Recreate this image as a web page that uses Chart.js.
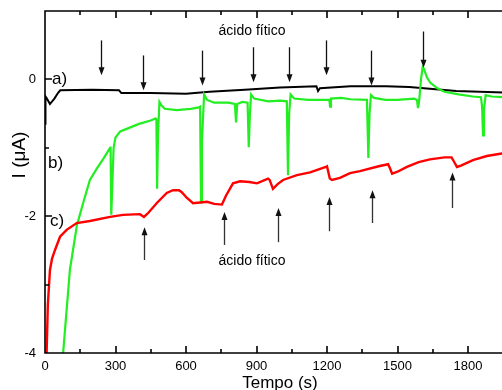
<!DOCTYPE html>
<html>
<head>
<meta charset="utf-8">
<script src="https://cdn.jsdelivr.net/npm/chart.js@4.4.0/dist/chart.umd.min.js"></script>
<style>
  body { margin: 0; overflow: hidden; background: #fff; }
  #wrap { width: 520px; height: 390px; }
</style>
</head>
<body>
<div id="wrap"><canvas id="chart" width="520" height="390"></canvas></div>
<script>
// curve a) - black
const timeA = [0, 2, 8, 21, 40, 55, 65, 200, 315, 325, 450, 600, 700, 850, 1000, 1155, 1162, 1170, 1300, 1450, 1550, 1650, 1750, 1950, 2000];
const currentA = [-0.65, -0.25, -0.28, -0.36, -0.28, -0.2, -0.16, -0.15, -0.16, -0.2, -0.2, -0.21, -0.18, -0.15, -0.12, -0.1, -0.17, -0.13, -0.1, -0.1, -0.11, -0.14, -0.17, -0.19, -0.19];

// curve b) - green
const timeB = [70, 106, 136, 162, 191, 221, 250, 277, 279, 282, 286, 292, 300, 320, 350, 400, 450, 470, 474, 477, 481, 487, 495, 510, 560, 620, 655, 660, 664, 668, 677, 690, 720, 780, 808, 813, 818, 840, 862, 867, 872, 877, 890, 950, 1000, 1029, 1034, 1039, 1045, 1060, 1120, 1200, 1210, 1213, 1217, 1260, 1300, 1370, 1376, 1381, 1387, 1400, 1450, 1500, 1570, 1583, 1587, 1592, 1600, 1607, 1612, 1625, 1640, 1670, 1700, 1760, 1820, 1855, 1860, 1864, 1868, 1875, 1900, 1950, 2000];
const currentB = [-4.3, -2.78, -2.13, -1.81, -1.47, -1.3, -1.15, -1.0, -0.98, -1.98, -1.6, -1.0, -0.85, -0.76, -0.72, -0.65, -0.6, -0.57, -0.58, -1.6, -0.8, -0.33, -0.38, -0.43, -0.45, -0.43, -0.41, -0.4, -1.8, -0.9, -0.22, -0.3, -0.34, -0.34, -0.36, -0.63, -0.36, -0.33, -0.34, -0.99, -0.5, -0.22, -0.28, -0.32, -0.31, -0.32, -1.4, -0.5, -0.22, -0.28, -0.3, -0.3, -0.3, -0.4, -0.28, -0.27, -0.29, -0.3, -1.15, -0.5, -0.23, -0.27, -0.3, -0.3, -0.28, -0.3, -0.42, -0.32, 0.0, 0.18, 0.16, 0.03, -0.05, -0.13, -0.18, -0.22, -0.25, -0.26, -0.4, -0.82, -0.45, -0.23, -0.25, -0.26, -0.26];

// curve c) - red
const timeC = [5, 7, 12, 21, 30, 43, 64, 92, 135, 191, 277, 332, 404, 421, 440, 475, 518, 545, 570, 582, 603, 630, 660, 690, 720, 753, 770, 800, 830, 870, 902, 949, 956, 970, 990, 1013, 1072, 1128, 1195, 1200, 1212, 1221, 1255, 1298, 1340, 1420, 1460, 1468, 1477, 1500, 1540, 1590, 1638, 1700, 1730, 1740, 1753, 1770, 1821, 1880, 1950, 2000];
const currentC = [-4.3, -3.98, -3.3, -2.79, -2.62, -2.49, -2.3, -2.2, -2.1, -2.07, -2.01, -1.98, -1.97, -2.01, -1.95, -1.81, -1.66, -1.62, -1.62, -1.65, -1.73, -1.81, -1.8, -1.79, -1.82, -1.83, -1.7, -1.52, -1.49, -1.5, -1.52, -1.45, -1.47, -1.6, -1.53, -1.47, -1.4, -1.36, -1.28, -1.27, -1.45, -1.47, -1.44, -1.37, -1.34, -1.27, -1.24, -1.3, -1.38, -1.35, -1.28, -1.21, -1.17, -1.14, -1.14, -1.2, -1.28, -1.26, -1.18, -1.12, -1.08, -1.07];

// arrows for phytic acid additions (time, start current, tip current)
const downArrowTime = [238, 417, 668, 885, 1038, 1196, 1387, 1609];
const downArrowFrom = [0.57, 0.35, 0.42, 0.47, 0.47, 0.57, 0.42, 0.70];
const downArrowTo = [0.06, -0.16, -0.09, -0.04, -0.04, 0.06, -0.09, 0.17];
const upArrowTime = [421, 762, 991, 1209, 1391, 1732];
const upArrowFrom = [-2.64, -2.42, -2.38, -2.22, -2.10, -1.88];
const upArrowTo = [-2.16, -1.94, -1.88, -1.72, -1.62, -1.36];

function toPoints(ts, vs) {
    return ts.map((t, i) => ({ x: t, y: vs[i] }));
}

const FONT = '"Liberation Sans", Arial, sans-serif';

function arrow(ctx, px, y0, y1) {
    const dir = y1 > y0 ? 1 : -1;
    ctx.beginPath();
    ctx.moveTo(px, y0);
    ctx.lineTo(px, y1 - dir * 6);
    ctx.stroke();
    ctx.beginPath();
    ctx.moveTo(px, y1);
    ctx.lineTo(px - 3, y1 - dir * 8);
    ctx.lineTo(px + 3, y1 - dir * 8);
    ctx.closePath();
    ctx.fill();
}

// frame, inward ticks, arrows and labels
const decorations = {
    id: 'decorations',
    afterDatasetsDraw(chart) {
        const { ctx, chartArea: a, scales: { x, y } } = chart;
        ctx.save();
        ctx.strokeStyle = '#000';
        ctx.lineWidth = 1.6;
        ctx.beginPath();
        ctx.moveTo(a.right, a.top);
        ctx.lineTo(a.left, a.top);
        ctx.lineTo(a.left, a.bottom);
        ctx.lineTo(a.right, a.bottom);
        x.ticks.forEach(t => {
            const px = Math.round(x.getPixelForValue(t.value));
            const len = t.value % 300 === 0 ? 7 : 4;
            ctx.moveTo(px, a.bottom);
            ctx.lineTo(px, a.bottom - len);
            ctx.moveTo(px, a.top);
            ctx.lineTo(px, a.top + len);
        });
        y.ticks.forEach(t => {
            const py = Math.round(y.getPixelForValue(t.value));
            const len = t.value % 2 === 0 ? 7 : 4;
            ctx.moveTo(a.left, py);
            ctx.lineTo(a.left + len, py);
        });
        ctx.stroke();

        // arrows
        ctx.strokeStyle = '#111';
        ctx.fillStyle = '#111';
        ctx.lineWidth = 1.3;
        downArrowTime.forEach((t, i) => {
            arrow(ctx, Math.round(x.getPixelForValue(t)) + 0.5, y.getPixelForValue(downArrowFrom[i]), y.getPixelForValue(downArrowTo[i]));
        });
        ctx.strokeStyle = '#333';
        ctx.fillStyle = '#111';
        upArrowTime.forEach((t, i) => {
            arrow(ctx, Math.round(x.getPixelForValue(t)) + 0.5, y.getPixelForValue(upArrowFrom[i]), y.getPixelForValue(upArrowTo[i]));
        });

        // annotations
        ctx.fillStyle = '#000';
        ctx.font = '14px ' + FONT;
        ctx.textAlign = 'center';
        ctx.textBaseline = 'middle';
        ctx.fillText('ácido fítico', x.getPixelForValue(881), y.getPixelForValue(0.70));
        ctx.fillText('ácido fítico', x.getPixelForValue(881), y.getPixelForValue(-2.65));

        ctx.font = '17px ' + FONT;
        ctx.textAlign = 'left';
        ctx.fillText('a)', x.getPixelForValue(30), y.getPixelForValue(0));
        ctx.fillText('b)', x.getPixelForValue(13), y.getPixelForValue(-1.22));
        ctx.fillText('c)', x.getPixelForValue(21), y.getPixelForValue(-2.08));

        // axis titles
        ctx.textAlign = 'center';
        ctx.fillText('Tempo (s)', (a.left + a.right) / 2, 383);
        ctx.font = '19px ' + FONT;
        ctx.translate(20, 155);
        ctx.rotate(-Math.PI / 2);
        ctx.fillText('I (μA)', 0, 0);
        ctx.restore();
    }
};

const ctx = document.getElementById('chart').getContext('2d');

new Chart(ctx, {
    type: 'line',
    data: {
        datasets: [
            { label: 'c)', data: toPoints(timeC, currentC), borderColor: '#ff0000', borderWidth: 2.4 },
            { label: 'b)', data: toPoints(timeB, currentB), borderColor: '#22ee22', borderWidth: 2.2 },
            { label: 'a)', data: toPoints(timeA, currentA), borderColor: '#000000', borderWidth: 2 }
        ]
    },
    options: {
        responsive: false,
        animation: false,
        devicePixelRatio: 1,
        layout: { padding: { top: 11, right: 5, left: 0, bottom: 0 } },
        elements: { point: { radius: 0 }, line: { tension: 0, fill: false } },
        plugins: { legend: { display: false }, tooltip: { enabled: false } },
        scales: {
            x: {
                type: 'linear',
                min: 0,
                max: 2000,
                grid: { display: false, drawTicks: false },
                border: { display: false },
                ticks: {
                    stepSize: 150,
                    autoSkip: false,
                    maxRotation: 0,
                    padding: 6,
                    color: '#000',
                    font: { family: FONT, size: 13 },
                    callback: v => (v % 300 === 0 ? String(v) : '')
                },
                afterFit: s => { s.height = 37; s.paddingLeft = 0; s.paddingRight = 0; }
            },
            y: {
                min: -4,
                max: 1,
                grid: { display: false, drawTicks: false },
                border: { display: false },
                ticks: {
                    stepSize: 1,
                    padding: 9,
                    color: '#000',
                    font: { family: FONT, size: 13 },
                    callback: v => (v % 2 === 0 ? String(v) : '')
                },
                afterFit: s => { s.width = 45; s.paddingTop = 0; s.paddingBottom = 0; }
            }
        }
    },
    plugins: [decorations]
});
</script>
</body>
</html>
